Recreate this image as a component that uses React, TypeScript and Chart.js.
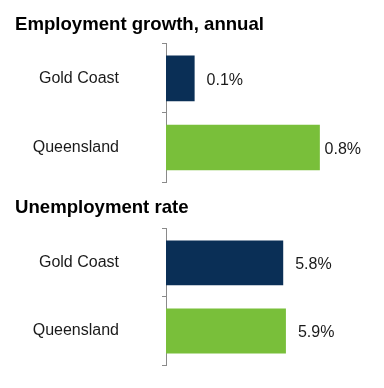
import React, { useEffect, useRef } from "react";
import { Chart, registerables } from "chart.js";

Chart.register(...registerables);

const FONT = "'Liberation Sans', Arial, Helvetica, sans-serif";

const categories = ["Gold Coast", "Queensland"];
const barColors = ["#0a2f56", "#79bf3a"];

const employmentTitle = "Employment growth, annual";
const employmentValues = [0.1, 0.8];
const employmentAxis = { min: -0.06, max: 1.03 };

const unemploymentTitle = "Unemployment rate";
const unemploymentValues = [5.8, 5.9];
const unemploymentAxis = { min: 1.46, max: 8.68 };

const valueLabelPlugin = {
  id: "valueLabels",
  afterDatasetsDraw(chart: any) {
    const ctx = chart.ctx;
    const area = chart.chartArea;
    ctx.save();
    ctx.font = `16px ${FONT}`;
    ctx.fillStyle = "#1a1a1a";
    ctx.textBaseline = "middle";
    ctx.textAlign = "left";
    chart.data.datasets.forEach((ds: any, di: number) => {
      const meta = chart.getDatasetMeta(di);
      meta.data.forEach((bar: any, i: number) => {
        const text = `${ds.data[i].toFixed(1)}%`;
        const w = ctx.measureText(text).width;
        let x = bar.x + 12;
        if (x + w > area.right) x = area.right - w;
        ctx.fillText(text, x, bar.y + 2);
      });
    });
    ctx.restore();
  },
};

function BarPanel(props: {
  title: string;
  values: number[];
  axis: { min: number; max: number };
  padTitle: { top: number; bottom: number };
  padBottom: number;
}) {
  const ref = useRef<HTMLCanvasElement | null>(null);
  useEffect(() => {
    if (!ref.current) return;
    const chart = new Chart(ref.current, {
      type: "bar",
      data: {
        labels: categories,
        datasets: [
          {
            data: props.values,
            backgroundColor: barColors,
            base: props.axis.min,
            barPercentage: 0.66,
            categoryPercentage: 1,
          } as any,
        ],
      },
      options: {
        indexAxis: "y",
        responsive: false,
        animation: false,
        layout: { padding: { left: 7, right: 15, top: 0, bottom: props.padBottom } },
        plugins: {
          legend: { display: false },
          tooltip: { enabled: false },
          title: {
            display: true,
            text: props.title,
            align: "start",
            color: "#000",
            font: { family: FONT, size: 18.6, weight: "bold" },
            padding: props.padTitle,
          },
        },
        scales: {
          x: {
            display: false,
            min: props.axis.min,
            max: props.axis.max,
          },
          y: {
            afterFit: (scale: any) => {
              scale.width = 151;
              scale.paddingTop = 0;
              scale.paddingBottom = 0;
            },
            grid: {
              drawOnChartArea: false,
              drawTicks: true,
              tickLength: 4,
              offset: true,
              color: "#8a8a8a",
            },
            border: { display: true, color: "#8a8a8a" },
            ticks: {
              padding: 43,
              color: "#1a1a1a",
              font: { family: FONT, size: 16 },
            },
          },
        },
      } as any,
      plugins: [valueLabelPlugin],
    });
    return () => chart.destroy();
  }, []);
  return <canvas ref={ref} width={368} height={182} style={{ display: "block" }} />;
}

export default function App() {
  return (
    <div style={{ width: 368 }}>
      <BarPanel
        title={employmentTitle}
        values={employmentValues}
        axis={employmentAxis}
        padTitle={{ top: 5.5, bottom: 8 }}
        padBottom={8}
      />
      <BarPanel
        title={unemploymentTitle}
        values={unemploymentValues}
        axis={unemploymentAxis}
        padTitle={{ top: 7, bottom: 9.5 }}
        padBottom={7}
      />
    </div>
  );
}
